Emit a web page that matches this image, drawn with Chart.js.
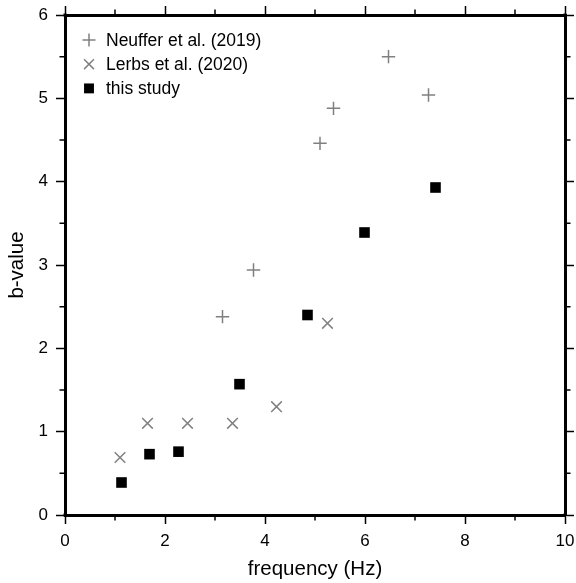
<!DOCTYPE html>
<html>
<head>
<meta charset="utf-8">
<script src="https://cdn.jsdelivr.net/npm/chart.js@4"></script>
<style>
  html, body { margin: 0; padding: 0; background: #fff; }
  canvas { display: block; }
</style>
</head>
<body>
<canvas id="chart" width="576" height="583"></canvas>
<script>
const NEUFFER_X = [3.15, 3.77, 5.10, 5.37, 6.47, 7.27];
const NEUFFER_Y = [2.38, 2.94, 4.46, 4.88, 5.50, 5.04];

const LERBS_X = [1.10, 1.65, 2.45, 3.35, 4.23, 5.25];
const LERBS_Y = [0.69, 1.10, 1.10, 1.10, 1.30, 2.30];

const STUDY_X = [1.13, 1.69, 2.27, 3.49, 4.85, 5.99, 7.41];
const STUDY_Y = [0.39, 0.73, 0.76, 1.57, 2.40, 3.39, 3.93];

const SERIES_LABELS = ["Neuffer et al. (2019)", "Lerbs et al. (2020)", "this study"];

const X_TICKS = [0, 2, 4, 6, 8, 10];
const X_MINOR = [1, 3, 5, 7, 9];
const Y_TICKS = [0, 1, 2, 3, 4, 5, 6];
const Y_MINOR = [0.5, 1.5, 2.5, 3.5, 4.5, 5.5];

const GRAY = "#808080";
const FONT = '"Liberation Sans", Arial, sans-serif';
const MAJOR_LEN = 9;
const MINOR_LEN = 5.5;

Chart.defaults.font.family = FONT;
Chart.defaults.color = "#000";

function toPoints(xs, ys) {
  return xs.map((x, i) => ({ x: x, y: ys[i] }));
}

// one side of the frame: border + outward ticks, labels only where wanted
function frameAxis(axis, position, tickValues, showLabels, size) {
  const isX = axis === "x";
  return {
    type: "linear",
    axis: axis,
    position: position,
    min: 0,
    max: isX ? 10 : 6,
    afterBuildTicks: (scale) => {
      scale.ticks = tickValues.map((v) => ({ value: v }));
    },
    afterFit: (scale) => {
      if (isX) scale.height = size;
      else scale.width = size;
      // labels may hang over the plot corners, no extra room needed
      scale.paddingLeft = 0;
      scale.paddingRight = 0;
      scale.paddingTop = 0;
      scale.paddingBottom = 0;
    },
    ticks: {
      display: showLabels,
      padding: isX ? 7 : 8,
      font: { size: 17 },
      color: "#000",
    },
    grid: {
      display: true,
      drawOnChartArea: false,
      drawTicks: true,
      tickLength: MAJOR_LEN,
      tickWidth: 1.5,
      tickColor: "#000",
    },
    border: { display: true, width: 3, color: "#000" },
  };
}

const minorTicks = {
  id: "minorTicks",
  afterDraw(chart) {
    const { ctx, chartArea: a, scales } = chart;
    ctx.save();
    ctx.strokeStyle = "#000";
    ctx.lineWidth = 1.5;
    ctx.beginPath();
    X_MINOR.forEach((v) => {
      const px = scales.x.getPixelForValue(v);
      ctx.moveTo(px, a.bottom);
      ctx.lineTo(px, a.bottom + MINOR_LEN);
      ctx.moveTo(px, a.top);
      ctx.lineTo(px, a.top - MINOR_LEN);
    });
    Y_MINOR.forEach((v) => {
      const py = scales.y.getPixelForValue(v);
      ctx.moveTo(a.left, py);
      ctx.lineTo(a.left - MINOR_LEN, py);
      ctx.moveTo(a.right, py);
      ctx.lineTo(a.right + MINOR_LEN, py);
    });
    ctx.stroke();
    // square off the frame corners
    ctx.fillStyle = "#000";
    [[a.left, a.top], [a.right, a.top], [a.left, a.bottom], [a.right, a.bottom]].forEach(([cx, cy]) => {
      ctx.fillRect(cx - 1.5, cy - 1.5, 3, 3);
    });
    ctx.restore();
  },
};

// legend inside the plot, top-left
const insideLegend = {
  id: "insideLegend",
  afterDatasetsDraw(chart) {
    const { ctx, chartArea: a } = chart;
    const radii = [6.5, 7, 7];
    chart.data.datasets.forEach((ds, i) => {
      const cx = a.left + 24;
      const cy = a.top + 25 + i * 24.2;
      ctx.save();
      ctx.strokeStyle = ds.pointBorderColor;
      ctx.fillStyle = ds.pointBackgroundColor;
      ctx.lineWidth = ds.pointBorderWidth;
      Chart.helpers.drawPoint(
        ctx,
        { pointStyle: ds.pointStyle, radius: radii[i], borderWidth: ds.pointBorderWidth, rotation: 0 },
        cx,
        cy
      );
      ctx.fillStyle = "#000";
      ctx.font = "17.5px " + FONT;
      ctx.textAlign = "left";
      ctx.textBaseline = "middle";
      ctx.fillText(ds.label, cx + 17, cy + 1);
      ctx.restore();
    });
  },
};

const xAxis = frameAxis("x", "bottom", X_TICKS, true, 68);
xAxis.title = {
  display: true,
  text: "frequency (Hz)",
  font: { size: 20.5 },
  color: "#000",
  padding: { top: 0, bottom: 1 },
};
const yAxis = frameAxis("y", "left", Y_TICKS, true, 65);
yAxis.title = {
  display: true,
  text: "b-value",
  font: { size: 20.5 },
  color: "#000",
  padding: { top: 5, bottom: 0 },
};

new Chart(document.getElementById("chart"), {
  type: "scatter",
  data: {
    datasets: [
      {
        label: SERIES_LABELS[0],
        data: toPoints(NEUFFER_X, NEUFFER_Y),
        pointStyle: "cross",
        pointRadius: 6.7,
        pointBorderWidth: 1.5,
        pointBorderColor: GRAY,
        pointBackgroundColor: GRAY,
      },
      {
        label: SERIES_LABELS[1],
        data: toPoints(LERBS_X, LERBS_Y),
        pointStyle: "crossRot",
        pointRadius: 7.5,
        pointBorderWidth: 1.5,
        pointBorderColor: GRAY,
        pointBackgroundColor: GRAY,
      },
      {
        label: SERIES_LABELS[2],
        data: toPoints(STUDY_X, STUDY_Y),
        pointStyle: "rect",
        pointRadius: 7.5,
        pointBorderWidth: 0,
        pointBorderColor: "#000",
        pointBackgroundColor: "#000",
      },
    ],
  },
  options: {
    responsive: false,
    animation: false,
    layout: { padding: 0 },
    plugins: {
      legend: { display: false },
      tooltip: { enabled: false },
    },
    scales: {
      x: xAxis,
      y: yAxis,
      x2: frameAxis("x", "top", X_TICKS, false, 15),
      y2: frameAxis("y", "right", Y_TICKS, false, 11),
    },
  },
  plugins: [minorTicks, insideLegend],
});
</script>
</body>
</html>
